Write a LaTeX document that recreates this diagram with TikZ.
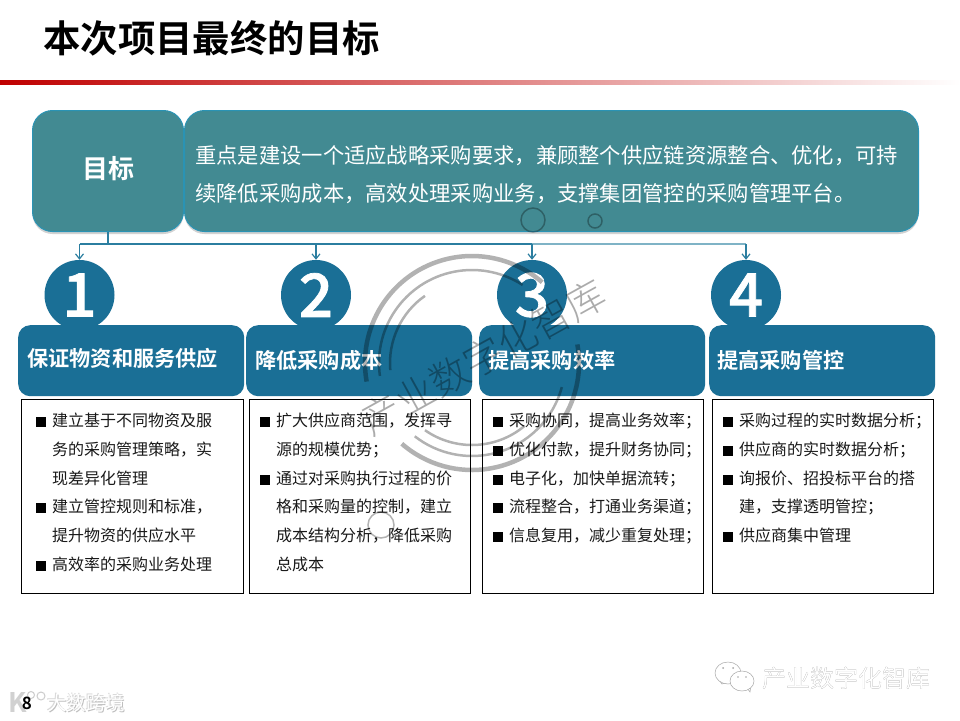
\documentclass[tikz,border=0pt]{standalone}
\usepackage{fontspec}
\usetikzlibrary{shadows,arrows.meta,calc}
\setmainfont{Noto Sans CJK SC}[BoldFont={Noto Sans CJK SC Bold}]
\newfontfamily\stampfont{Noto Sans CJK SC Light}
\newfontfamily\digitfont{Noto Sans CJK SC Medium}[FakeBold=1.2]
\definecolor{teal1}{HTML}{428A92}
\definecolor{tealb}{HTML}{2A93B4}
\definecolor{blue1}{HTML}{1A6F96}
\definecolor{linec}{HTML}{2B7EA0}
\definecolor{linel}{HTML}{7FB3C6}
\newcommand{\fs}[2]{\fontsize{#1}{#2}\selectfont}
\newcommand{\bul}{\makebox[16pt][l]{\textcolor{black}{\rule[-0.5pt]{10pt}{10pt}}}}
\newcommand{\nob}{\hspace*{16pt}}
\tikzset{
  x=1pt,y=-1pt,
  tealbox/.style={draw=tealb,line width=1pt,fill=teal1,rounded corners=20pt,
    drop shadow={shadow xshift=0pt,shadow yshift=-2.5pt,opacity=.35},inner sep=0pt},
  circ/.style={circle,fill=blue1,minimum size=70pt,inner sep=0pt,text=white,font=\digitfont\fs{60}{60}},
  head/.style={fill=blue1,rounded corners=12pt,minimum width=226pt,minimum height=71pt,inner sep=0pt,anchor=north west},
  headtxt/.style={text=white,font=\fs{21.2}{24}\bfseries,anchor=west,inner sep=0pt},
  detail/.style={draw=black,line width=1pt,fill=white,minimum width=221pt,minimum height=194pt,inner sep=0pt,anchor=north west},
  listtxt/.style={anchor=north west,align=left,inner sep=0pt,font=\fs{16}{28.7},text=black!90},
  conn/.style={draw=linec,line width=1.2pt},
  arr/.style={conn,-{Straight Barb[length=5pt,width=8pt]}},
  stampline/.style={draw=black,opacity=.3,line cap=butt},
  stamptxt/.style={text=black,text opacity=.33,font=\stampfont\fs{39}{39},rotate=29,inner sep=0pt},
  wm/.style={inner sep=0pt,anchor=west},
}
\begin{document}
\begin{tikzpicture}
\useasboundingbox (0,0) rectangle (960,720);
\fill[white] (0,0) rectangle (960,720);
% title and bar
\node[inner sep=0pt,anchor=west,font=\fs{37.4}{40}\bfseries] (title) at (43,38) {本次项目最终的目标};
\shade[left color=red!75!black,right color=white] (0,80) rectangle (960,84);
% circles
\node[circ] (c1) at (79.5,295) {1};
\node[circ] (c2) at (316,295) {2};
\node[circ] (c3) at (532,295) {3};
\node[circ] (c4) at (746,295) {4};
% headers
\node[head] (h1) at (18,325) {};
\node[head] (h2) at (246,325) {};
\node[head] (h3) at (479,325) {};
\node[head] (h4) at (709,325) {};
\node[headtxt] (ht1) at (27,358) {保证物资和服务供应};
\node[headtxt] (ht2) at (255,360) {降低采购成本};
\node[headtxt] (ht3) at (488,360) {提高采购效率};
\node[headtxt] (ht4) at (717,360) {提高采购管控};
% target boxes
\node[tealbox,minimum width=151pt,minimum height=121pt,anchor=north west] (goal) at (32,110) {};
\node[inner sep=0pt,font=\fs{26}{30}\bfseries,text=white] (goall) at (108,168.5) {目标};
\node[tealbox,minimum width=734pt,minimum height=121pt,anchor=north west] (goaltxt) at (184,110) {};
\node[inner sep=0pt,anchor=north west,align=left,text=white,font=\fs{21.3}{38}] (goalt) at (195,145.5)
  {重点是建设一个适应战略采购要求，兼顾整个供应链资源整合、优化，可持\\续降低采购成本，高效处理采购业务，支撑集团管控的采购管理平台。};
% connectors
\coordinate (bus) at (108,244);
\draw[conn] (goal.south) -- (bus);
\draw[conn] (bus -| c1) -- (bus -| c3);
\draw[conn,draw=linel] (bus -| c3) -- (bus -| c4);
\draw[arr] (bus -| c1) -- (c1.north);
\draw[arr] (bus -| c2) -- (c2.north);
\draw[arr] (bus -| c3) -- (c3.north);
\draw[arr] (bus -| c4) -- (c4.north);
% detail boxes
\node[detail,minimum width=222pt] (d1) at (21,398.5) {};
\node[detail] (d2) at (248.5,399) {};
\node[detail] (d3) at (482,399) {};
\node[detail] (d4) at (712,399) {};
\node[listtxt] (l1) at (36,413) {\bul 建立基于不同物资及服\\\nob 务的采购管理策略，实\\\nob 现差异化管理\\\bul 建立管控规则和标准，\\\nob 提升物资的供应水平\\\bul 高效率的采购业务处理};
\node[listtxt] (l2) at (260,413) {\bul 扩大供应商范围，发挥寻\\\nob 源的规模优势；\\\bul 通过对采购执行过程的价\\\nob 格和采购量的控制，建立\\\nob 成本结构分析，降低采购\\\nob 总成本};
\node[listtxt] (l3) at (493,413) {\bul 采购协同，提高业务效率；\\\bul 优化付款，提升财务协同；\\\bul 电子化，加快单据流转；\\\bul 流程整合，打通业务渠道；\\\bul 信息复用，减少重复处理；};
\node[listtxt] (l4) at (723,413) {\bul 采购过程的实时数据分析；\\\bul 供应商的实时数据分析；\\\bul 询报价、招投标平台的搭\\\nob 建，支撑透明管控；\\\bul 供应商集中管理};
% stamp
\coordinate (sc) at (472,363);
\draw[stampline,line width=4.5pt] ($(sc)+(170:107)$) arc[start angle=170,end angle=311,radius=107];
\draw[stampline,line width=4.5pt] ($(sc)+(-10:107)$) arc[start angle=-10,end angle=131,radius=107];
\draw[stampline,line width=2.5pt] ($(sc)+(172:93)$) arc[start angle=172,end angle=303,radius=93];
\draw[stampline,line width=2.5pt] ($(sc)+(15:93)$) arc[start angle=15,end angle=128,radius=93];
\draw[stampline,line width=2.5pt] ($(sc)+(175:82)$) arc[start angle=175,end angle=235,radius=82];
\draw[stampline,line width=2.5pt] ($(sc)+(50:82)$) arc[start angle=50,end angle=125,radius=82];
\node[stamptxt] (st) at (483.5,357) {产业数字化智库};
\draw[stampline,line width=1.5pt] (533,220) circle[radius=12];
\draw[stampline,line width=1.5pt] (595,221) circle[radius=7];
\draw[stampline,line width=1.5pt] (381,525) circle[radius=13];
% watermark bottom right
\draw[black!35,line width=.5pt,fill=white] (719,680) -- (722,684) -- (727,682) -- cycle;
\draw[black!35,line width=.5pt,fill=white] (728,673) ellipse[x radius=13,y radius=11];
\draw[black!35,line width=.5pt,fill=white] (747,688) -- (750,692) -- (751,685) -- cycle;
\draw[black!35,line width=.5pt,fill=white] (742,681) ellipse[x radius=12,y radius=10];
\fill[black!35] (723,668) circle[radius=1] (733,668) circle[radius=1] (738,677) circle[radius=.8] (746,677) circle[radius=.8];
\node[wm,text=black!55,font=\fs{24}{26}] (wb) at (762.7,678.7) {产业数字化智库};
\node[wm,text=white,font=\fs{24}{26}] (wa) at (762,678) {产业数字化智库};
% watermark bottom left
\node[wm,text=black!25,font=\fs{19.5}{22}] (lb) at (47.8,703.8) {大数跨境};
\node[wm,text=black!15,font=\fs{19.5}{22}] (lc) at (46.4,702.4) {大数跨境};
\node[wm,text=white,font=\fs{19.5}{22}] (la) at (47,703) {大数跨境};
\node[wm,text=black!18,font=\fs{27}{28}\bfseries] (kb) at (8,702) {K};
\draw[black!20,line width=1pt] (41,696) circle[radius=4];
\draw[black!20,line width=1pt] (31,695) circle[radius=3.5];
\node[inner sep=0pt,font=\fs{17}{20}\bfseries,text=black] (page) at (27,703) {8};
\end{tikzpicture}
\end{document}
